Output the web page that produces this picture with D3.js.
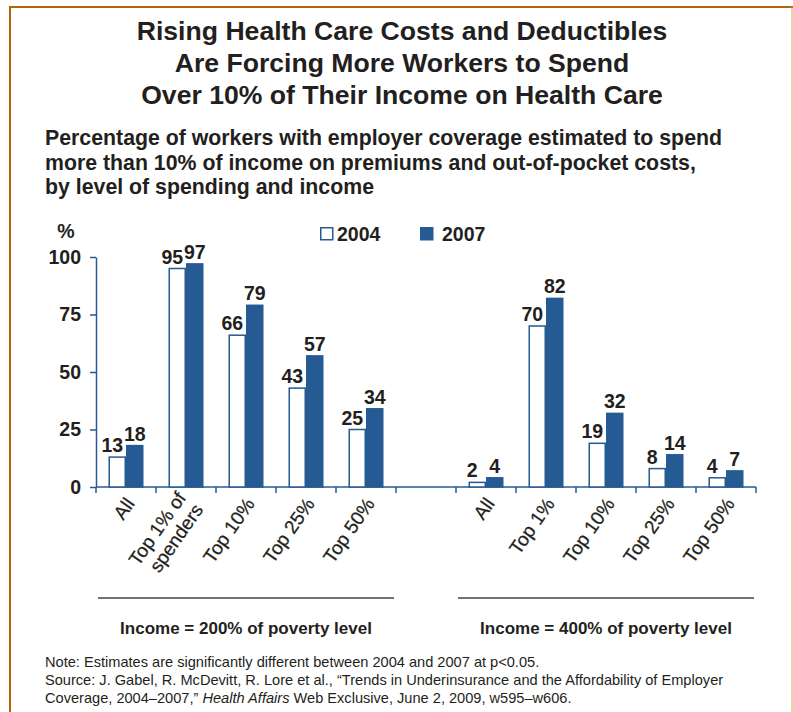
<!DOCTYPE html>
<html>
<head>
<meta charset="utf-8">
<title>Health care spending</title>
<style>
body { margin: 0; background: #fff; }
text { font-family: "Liberation Sans", Arial, Helvetica, sans-serif; fill: #231f20; }
.title { font-size: 26.6px; font-weight: bold; }
.subtitle { font-size: 21.3px; font-weight: bold; }
.val { font-size: 19.5px; font-weight: bold; }
.ytick text { font-size: 19.5px; font-weight: bold; }
.cat { font-size: 19px; stroke: #231f20; stroke-width: 0.25px; }
.group { font-size: 17px; font-weight: bold; }
.note { font-size: 14.6px; }
</style>
</head>
<body>
<script src="https://cdn.jsdelivr.net/npm/d3@7"></script>
<script>

// data
var cats200 = ["All", "Top 1% of\nspenders", "Top 10%", "Top 25%", "Top 50%"];
var cats400 = ["All", "Top 1%", "Top 10%", "Top 25%", "Top 50%"];
var y2004_200 = [13, 95, 66, 43, 25];
var y2007_200 = [18, 97, 79, 57, 34];
var y2004_400 = [2, 70, 19, 8, 4];
var y2007_400 = [4, 82, 32, 14, 7];
var years = ["2004", "2007"];
var yTicks = [0, 25, 50, 75, 100];
var groupLabels = ["Income = 200% of poverty level", "Income = 400% of poverty level"];

var blue = "#265a92";
var width = 793, height = 712;

// build rows: group 1, an empty slot, group 2
var rows = [];
cats200.forEach(function(c, i) {
  rows.push({key: "a" + i, label: c, v: [y2004_200[i], y2007_200[i]]});
});
rows.push({key: "gap", label: "", v: null});
cats400.forEach(function(c, i) {
  rows.push({key: "b" + i, label: c, v: [y2004_400[i], y2007_400[i]]});
});

var svg = d3.select("body").append("svg")
    .attr("width", width)
    .attr("height", height);

// frame
svg.append("line").attr("x1", 10).attr("y1", 7).attr("x2", 10).attr("y2", height)
    .style("stroke", "#b8600c").style("stroke-width", 2);
svg.append("line").attr("x1", 9).attr("y1", 7).attr("x2", 793).attr("y2", 7)
    .style("stroke", "#b8600c").style("stroke-width", 2);
svg.append("line").attr("x1", 792).attr("y1", 7).attr("x2", 792).attr("y2", height)
    .style("stroke", "#d9a062").style("stroke-width", 1);

// titles
var titleLines = ["Rising Health Care Costs and Deductibles",
                  "Are Forcing More Workers to Spend",
                  "Over 10% of Their Income on Health Care"];
svg.selectAll(".title").data(titleLines).enter().append("text")
    .attr("class", "title")
    .attr("x", 402)
    .attr("y", function(d, i) { return 40 + i * 32; })
    .attr("text-anchor", "middle")
    .text(function(d) { return d; });

var subLines = ["Percentage of workers with employer coverage estimated to spend",
                "more than 10% of income on premiums and out-of-pocket costs,",
                "by level of spending and income"];
svg.selectAll(".subtitle").data(subLines).enter().append("text")
    .attr("class", "subtitle")
    .attr("x", 45)
    .attr("y", function(d, i) { return 145 + i * 24.5; })
    .text(function(d) { return d; });

// scales
var x = d3.scaleBand()
    .domain(rows.map(function(d) { return d.key; }))
    .range([96, 756]);

var xs = d3.scaleBand()
    .domain(years)
    .range([-17.5, 17.5]);

var y = d3.scaleLinear()
    .domain([0, 100])
    .range([487, 257]);

// y axis
var yAxis = svg.append("g")
    .attr("class", "ytick")
    .attr("transform", "translate(96,0)")
    .call(d3.axisLeft(y).tickValues(yTicks).tickSize(6).tickSizeOuter(0).tickPadding(9));
yAxis.select(".domain").style("stroke", blue).style("stroke-width", 1.5);
yAxis.selectAll(".tick line").style("stroke", blue).style("stroke-width", 1.5);
yAxis.selectAll(".tick text").style("fill", "#231f20")
    .style("font-family", "'Liberation Sans', Arial, sans-serif");

svg.append("text")
    .attr("class", "val")
    .attr("x", 66)
    .attr("y", 238)
    .attr("text-anchor", "middle")
    .text("%");

// x axis line and boundary ticks
svg.append("line")
    .attr("x1", x.range()[0]).attr("x2", x.range()[1])
    .attr("y1", y(0)).attr("y2", y(0))
    .style("stroke", blue).style("stroke-width", 1.5);

var bounds = rows.map(function(d) { return x(d.key); }).concat([x.range()[1]]);
svg.selectAll(".xtick").data(bounds).enter().append("line")
    .attr("class", "xtick")
    .attr("x1", function(d) { return d; }).attr("x2", function(d) { return d; })
    .attr("y1", y(0)).attr("y2", y(0) + 6)
    .style("stroke", blue).style("stroke-width", 1.5);

// bars
var filled = rows.filter(function(d) { return d.v; });
var cat = svg.selectAll(".cat-g").data(filled).enter().append("g")
    .attr("class", "cat-g")
    .attr("transform", function(d) { return "translate(" + (x(d.key) + x.bandwidth() / 2) + ",0)"; });

cat.selectAll("rect").data(function(d) {
    return d.v.map(function(v, i) { return {year: years[i], value: v}; });
  }).enter().append("rect")
    .attr("x", function(d) { return xs(d.year) + 0.75; })
    .attr("width", xs.bandwidth() - 1.5)
    .attr("y", function(d) { return y(d.value); })
    .attr("height", function(d) { return y(0) - y(d.value); })
    .style("fill", function(d) { return d.year === "2004" ? "#fff" : blue; })
    .style("stroke", blue)
    .style("stroke-width", 1.5);

cat.selectAll(".val").data(function(d) {
    return d.v.map(function(v, i) { return {year: years[i], value: v}; });
  }).enter().append("text")
    .attr("class", "val")
    .attr("x", function(d) { return xs(d.year) + xs.bandwidth() / 2 + (d.year === "2004" ? -5 : 0); })
    .attr("y", function(d) { return y(d.value) - 5; })
    .attr("text-anchor", "middle")
    .text(function(d) { return d.value; });

// category labels
cat.each(function(d) {
  var lines = d.label.split("\n");
  var t = d3.select(this).append("text")
      .attr("class", "cat")
      .attr("text-anchor", "end")
      .attr("transform", "translate(4,500) rotate(-55)");
  lines.forEach(function(l, i) {
    t.append("tspan")
        .attr("x", 0)
        .attr("dy", i === 0 ? (0.35 - (lines.length - 1) * 0.55) + "em" : "1.1em")
        .text(l);
  });
});

// group underline and labels
var groups = [["a0", "a4"], ["b0", "b4"]];
groups.forEach(function(g, i) {
  var x0 = x(g[0]) + 2, x1 = x(g[1]) + x.bandwidth() - 2;
  svg.append("line")
      .attr("x1", x0).attr("x2", x1)
      .attr("y1", 598).attr("y2", 598)
      .style("stroke", "#444").style("stroke-width", 1.5);
  svg.append("text")
      .attr("class", "group")
      .attr("x", (x0 + x1) / 2)
      .attr("y", 634)
      .attr("text-anchor", "middle")
      .text(groupLabels[i]);
});

// legend
var legend = svg.selectAll(".legend").data(years).enter().append("g")
    .attr("class", "legend")
    .attr("transform", function(d, i) { return "translate(" + (320 + i * 100) + ",227)"; });
legend.append("rect")
    .attr("x", 0.75).attr("y", 0.75)
    .attr("width", 12).attr("height", 12)
    .style("fill", function(d) { return d === "2004" ? "#fff" : blue; })
    .style("stroke", blue).style("stroke-width", 1.5);
legend.append("text")
    .attr("class", "val")
    .attr("x", function(d, i) { return i === 0 ? 17 : 22; })
    .attr("y", 14)
    .text(function(d) { return d; });

// notes
var note = svg.append("text").attr("class", "note");
note.append("tspan").attr("x", 45).attr("y", 667)
    .text("Note: Estimates are significantly different between 2004 and 2007 at p<0.05.");
note.append("tspan").attr("x", 45).attr("y", 685)
    .text("Source: J. Gabel, R. McDevitt, R. Lore et al., \u201cTrends in Underinsurance and the Affordability of Employer");
var last = note.append("tspan").attr("x", 45).attr("y", 703);
last.append("tspan").text("Coverage, 2004\u20132007,\u201d ");
last.append("tspan").style("font-style", "italic").text("Health Affairs");
last.append("tspan").text(" Web Exclusive, June 2, 2009, w595\u2013w606.");

</script>
</body>
</html>
